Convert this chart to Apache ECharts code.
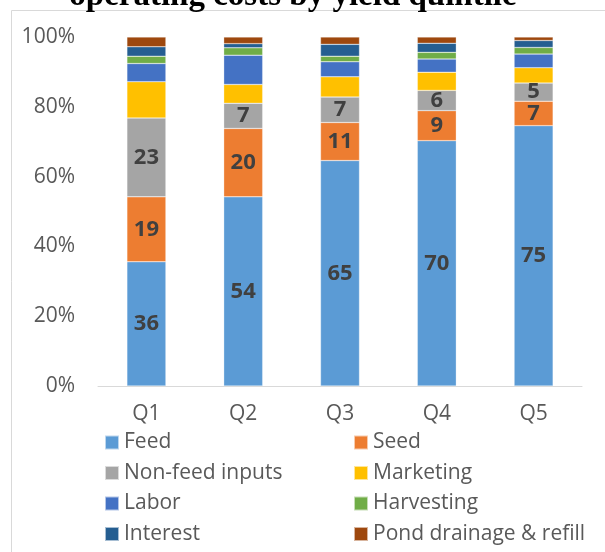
<!DOCTYPE html>
<html>
<head>
<meta charset="utf-8">
<script src="https://cdn.jsdelivr.net/npm/echarts@6/dist/echarts.min.js"></script>
<style>html,body{margin:0;padding:0;background:#fff;}#c{width:605px;height:552px;}</style>
</head>
<body>
<div id="c"></div>
<script>
const categories = ['Q1', 'Q2', 'Q3', 'Q4', 'Q5'];
const feed        = [35.6, 54.2, 64.6, 70.3, 74.6];
const seed        = [18.6, 19.6, 10.9, 8.6, 7.0];
const nonFeed     = [22.6, 7.2, 7.3, 5.8, 5.2];
const marketing   = [10.4, 5.4, 5.8, 5.2, 4.4];
const labor       = [5.2, 8.4, 4.3, 3.8, 3.9];
const harvesting  = [2.1, 2.1, 1.6, 1.9, 1.9];
const interest    = [2.7, 1.2, 3.4, 2.6, 2.0];
const pond        = [2.8, 1.9, 2.1, 1.8, 1.0];
const yTicks = [0, 20, 40, 60, 80, 100];
const titleText = 'operating costs by yield quintile';

const seriesDefs = [
  {name: 'Feed', data: feed, color: '#5B9BD5', label: true},
  {name: 'Seed', data: seed, color: '#ED7D31', label: true},
  {name: 'Non-feed inputs', data: nonFeed, color: '#A5A5A5', label: true},
  {name: 'Marketing', data: marketing, color: '#FFC000', label: false},
  {name: 'Labor', data: labor, color: '#4472C4', label: false},
  {name: 'Harvesting', data: harvesting, color: '#70AD47', label: false},
  {name: 'Interest', data: interest, color: '#255E91', label: false},
  {name: 'Pond drainage & refill', data: pond, color: '#9E480E', label: false}
];

const chart = echarts.init(document.getElementById('c'), null, {renderer: 'canvas'});
const FONT = 'Open Sans, Liberation Sans, sans-serif';
const legendText = {fontFamily: FONT, fontSize: 21, color: '#595959', lineHeight: 21};
const legendBase = {orient: 'vertical', top: 432, height: 140, padding: 0, itemWidth: 14, itemHeight: 14,
  itemGap: 9.5, icon: 'rect', textStyle: legendText};
chart.setOption({
  animation: false,
  graphic: [
    {type: 'rect', shape: {x: 11.5, y: 10.5, width: 800, height: 800}, style: {fill: 'none', stroke: '#d9d9d9', lineWidth: 1}, z: -1},
    {type: 'text', x: 293, y: -20, style: {text: titleText, font: 'bold 33px "Liberation Serif", "Times New Roman", serif', fill: '#000', textAlign: 'center'}}
  ],
  grid: {left: 98, right: 23, top: 37, bottom: 166},
  legend: [
    Object.assign({}, legendBase, {left: 104, data: ['Feed', 'Non-feed inputs', 'Labor', 'Interest']}),
    Object.assign({}, legendBase, {left: 353, data: ['Seed', 'Marketing', 'Harvesting', 'Pond drainage & refill']})
  ],
  xAxis: {
    type: 'category', data: categories,
    axisLine: {lineStyle: {color: '#d9d9d9', width: 1}},
    axisTick: {show: false},
    axisLabel: {color: '#595959', fontSize: 21, fontFamily: FONT, margin: 18}
  },
  yAxis: {
    type: 'value', min: 0, max: 100, interval: 20,
    axisLine: {show: false}, axisTick: {show: false}, splitLine: {show: false},
    axisLabel: {color: '#595959', fontSize: 21, fontFamily: FONT, margin: 23,
      formatter: v => yTicks.includes(v) ? v + '%' : ''}
  },
  series: seriesDefs.map(s => ({
    name: s.name, type: 'bar', stack: 'total', data: s.data, barWidth: 39,
    itemStyle: {color: s.color, borderColor: 'rgba(255,255,255,0.6)', borderWidth: 0.5},
    label: {show: s.label, position: 'inside', color: '#404040', fontWeight: 'bold', fontSize: 22,
      fontFamily: FONT, formatter: p => Math.round(p.value)}
  }))
});
</script>
</body>
</html>
